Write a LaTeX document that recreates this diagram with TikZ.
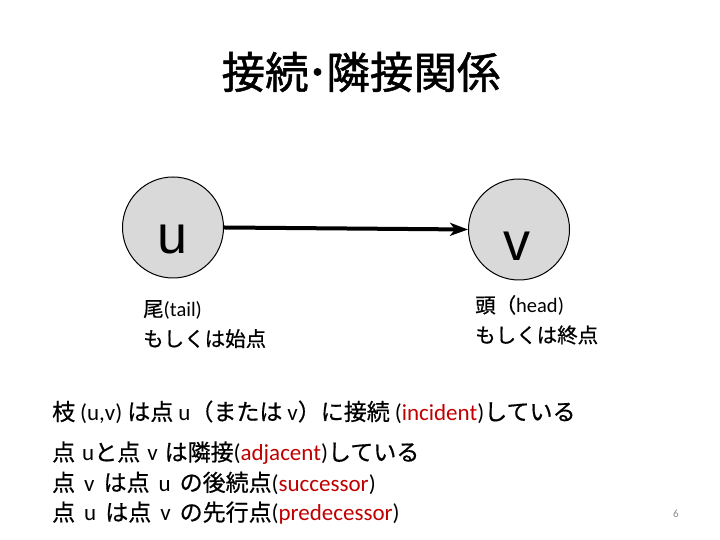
\documentclass[tikz,border=0pt]{standalone}
\usepackage{fontspec}
\setmainfont{Carlito}
\newfontfamily\jp[FakeBold=0.6]{Noto Sans CJK JP}
\newfontfamily\jpt[FakeBold=1.2]{Noto Sans CJK JP}
\newfontfamily\arl{Liberation Sans}
\usetikzlibrary{arrows.meta}
\definecolor{vfill}{HTML}{D9D9D9}
\definecolor{hl}{HTML}{C00000}
\definecolor{pg}{HTML}{8C8C8C}
\newcommand{\hl}[1]{\textcolor{hl}{#1}}
\newcommand{\gap}{\hspace{9pt}}
\newcommand{\sgap}{\hspace{5pt}}
\newcommand{\mgap}{\hspace{7pt}}
\newcommand{\jf}[1]{{\jp\fontsize{23}{26}\selectfont #1}}
\begin{document}
\begin{tikzpicture}[x=1pt,y=1pt,
  vert/.style={circle,draw=black,line width=1pt,fill=vfill,minimum size=101pt,inner sep=0pt},
  vtext/.style={inner sep=0pt,font=\arl\fontsize{54}{54}\selectfont},
  body/.style={anchor=west,inner sep=0pt,font=\fontsize{23}{26}\selectfont},
  lab/.style={anchor=north west,inner sep=0pt,align=left,font=\fontsize{20.5}{30}\selectfont},
  edge/.style={line width=4pt,-{Stealth[length=18pt,width=13pt,inset=5pt]}}]
\useasboundingbox (0,0) rectangle (720,540);
\node[inner sep=0pt,font=\jpt\fontsize{43.5}{44}\selectfont] (title) at (361,468) {接続\kern-2pt ･\kern-2pt 隣接関係};
\node[vert] (u) at (173,312.5) {};
\node[vert] (v) at (519,310.5) {};
\node[vtext] (ut) at (173,300) {u};
\node[vtext] (vt) at (517,294) {v};
\draw[edge] (u.east) -- (v.west);
\node[lab] (tail) at (143,240) {{\jp 尾}(tail)\\{\jp もしくは始点}};
\node[lab] (head) at (475,245) {{\jp 頭（}head)\\{\jp もしくは終点}};
\node[body] (l1) at (52,128) {\jf{枝}\sgap(u,v)\sgap\jf{は点}\sgap u\jf{（または}\sgap v\jf{）に接続}\sgap(\hl{incident})\jf{している}};
\node[body] (l2) at (52,87) {\jf{点}\mgap u\jf{と点}\mgap v\mgap\jf{は隣接}(\hl{adjacent})\jf{している}};
\node[body] (l3) at (52,57) {\jf{点}\gap v\gap\jf{は点}\gap u\gap\jf{の後続点}(\hl{successor})};
\node[body] (l4) at (52,27) {\jf{点}\gap u\gap\jf{は点}\gap v\gap\jf{の先行点}(\hl{predecessor})};
\node[inner sep=0pt,text=pg,font=\fontsize{11}{11}\selectfont] (pn) at (676,26) {6};
\end{tikzpicture}
\end{document}
